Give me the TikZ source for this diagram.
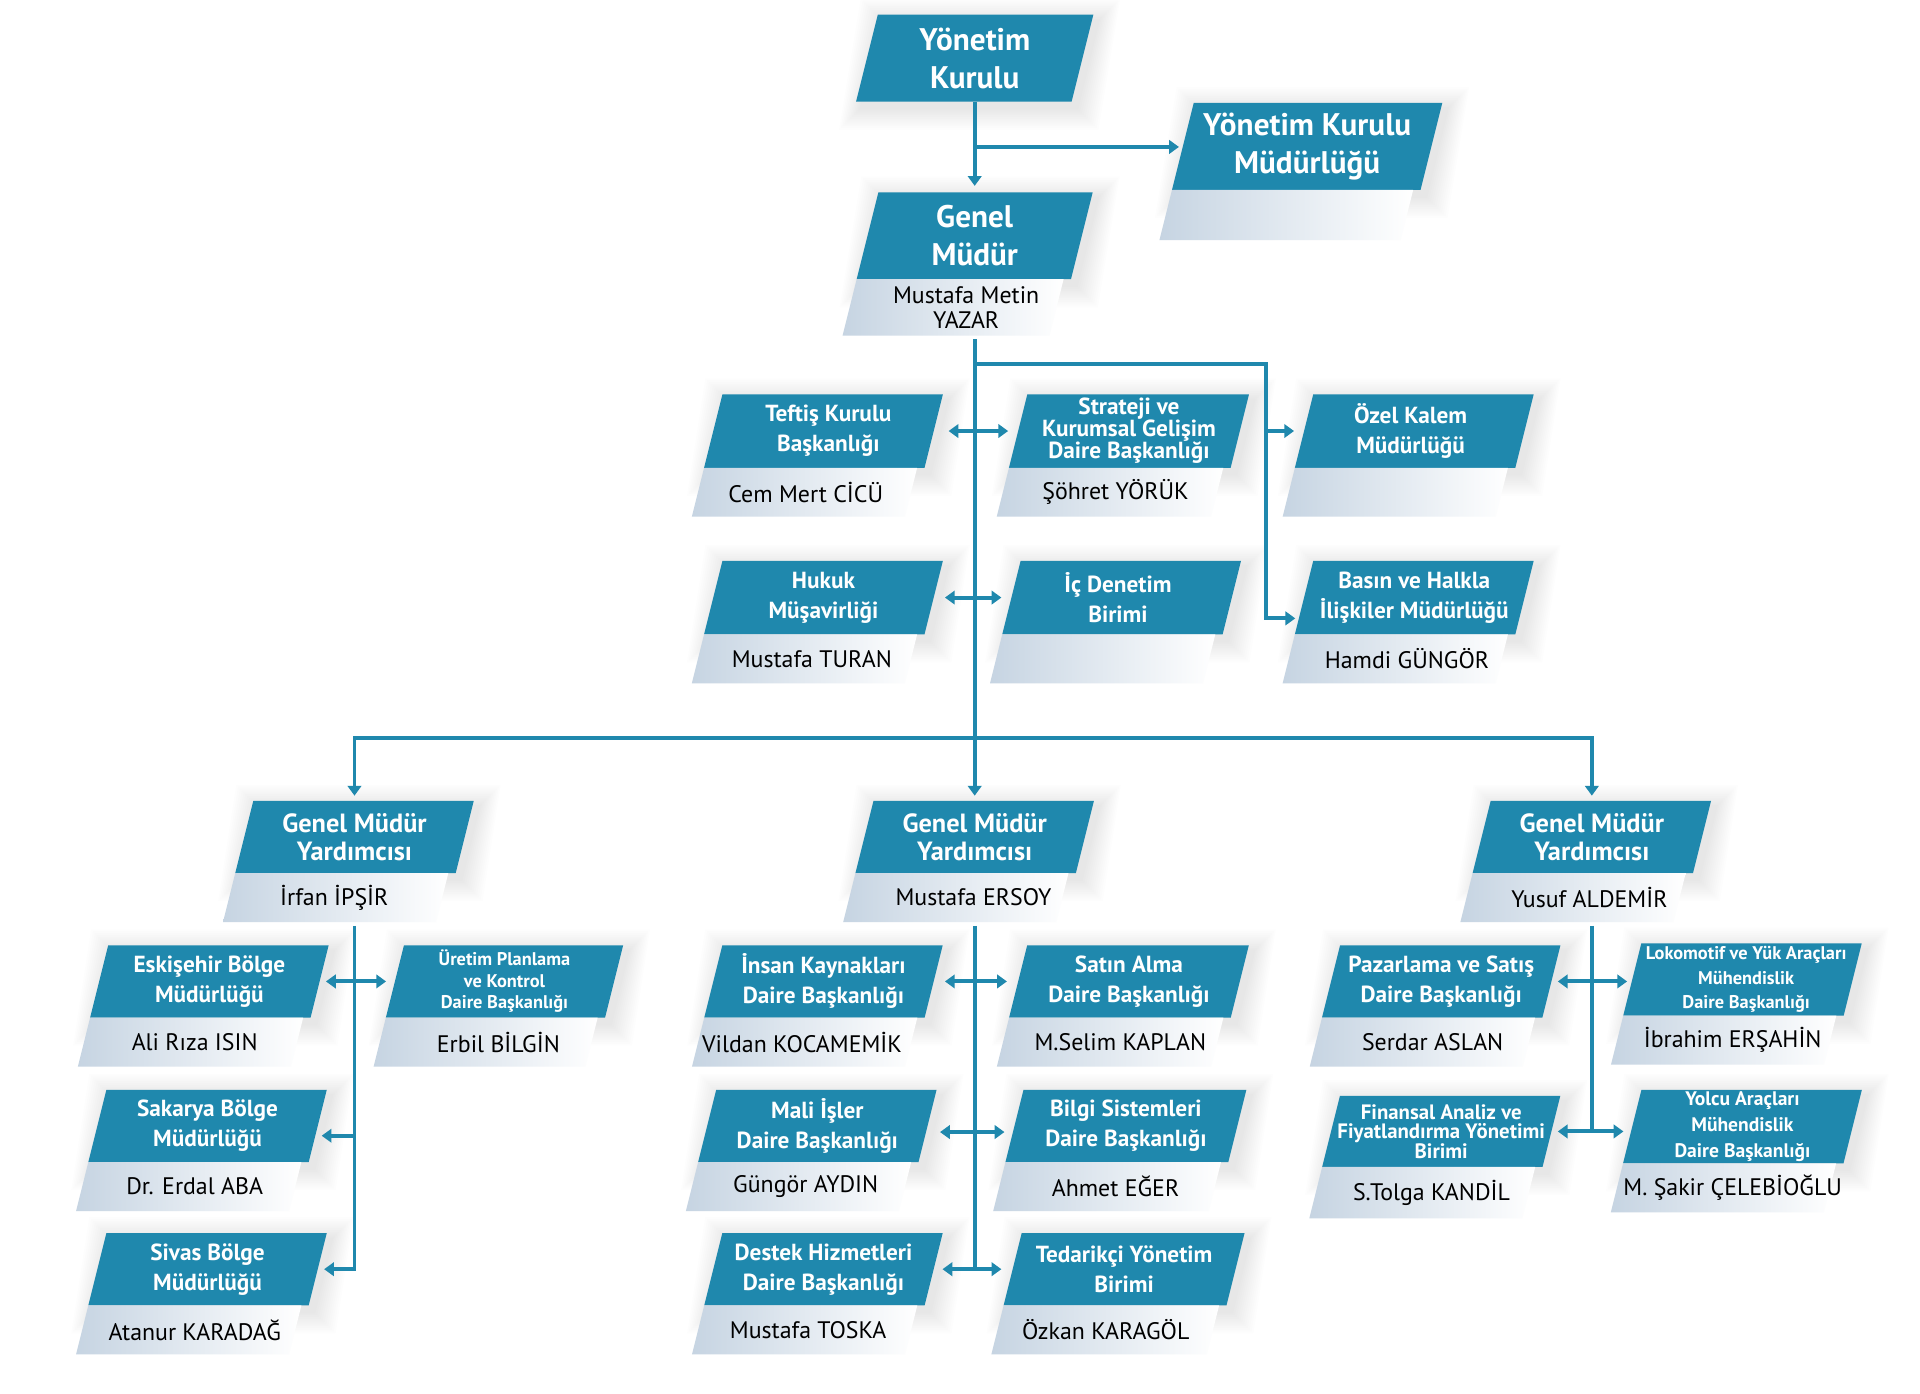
\documentclass[tikz,border=0pt]{standalone}
\usepackage{fontspec}
\setmainfont{PT Sans}
\usetikzlibrary{arrows.meta,calc}
\definecolor{boxc}{HTML}{1F88AD}
\definecolor{bandc}{HTML}{C6D4E2}
\tikzset{
 boxtxt/.style={text=white, font=\bfseries\fontsize{19}{24.5}\selectfont, align=center, inner sep=0pt},
 bigtxt/.style={font=\bfseries\fontsize{25.5}{31}\selectfont},
 gmytxt/.style={font=\bfseries\fontsize{21.5}{23}\selectfont},
 tritxt/.style={font=\bfseries\fontsize{19}{18}\selectfont},
 smalltxt/.style={font=\bfseries\fontsize{15}{17.5}\selectfont},
 lokotxt/.style={font=\bfseries\fontsize{15}{20}\selectfont},
 yoltxt/.style={font=\bfseries\fontsize{16}{21}\selectfont},
 fintxt/.style={font=\bfseries\fontsize{17}{16}\selectfont},
 nametxt/.style={text=black, font=\fontsize{19.5}{20}\selectfont, align=center, inner sep=0pt},
 conn/.style={draw=boxc, line width=3.2pt},
 arr/.style={conn, -{Triangle[length=8pt,width=11pt]}},
 dbl/.style={conn, {Triangle[length=8pt,width=11pt]}-{Triangle[length=8pt,width=11pt]}},
}
% box: #1 name, #2 cx, #3 cy, #4 w, #5 h, #6 opts, #7 text
\newcommand\ob[7]{%
 \foreach \k in {1,...,12}{%
  \fill[black,opacity=0.008] ({#2-#4/2+#5/8-1.5*\k+4},{#3-#5/2-1.5*\k+5}) -- ({#2+#4/2+#5/8+1.5*\k+4},{#3-#5/2-1.5*\k+5}) -- ({#2+#4/2-#5/8+1.5*\k+4},{#3+#5/2+1.5*\k+5}) -- ({#2-#4/2-#5/8-1.5*\k+4},{#3+#5/2+1.5*\k+5}) -- cycle;}
 \fill[boxc] ({#2-#4/2+#5/8},{#3-#5/2}) -- ({#2+#4/2+#5/8},{#3-#5/2}) -- ({#2+#4/2-#5/8},{#3+#5/2}) -- ({#2-#4/2-#5/8},{#3+#5/2}) -- cycle;
 \node[boxtxt,minimum width=#4pt,minimum height=#5pt,#6] (#1) at (#2,#3) {#7};}
% band: #1 name, #2 cx, #3 cy, #4 w, #5 h, #6 band h, #7 text x-shift from cx, #8 text
\newcommand\bd[8]{%
 \shade[left color=bandc,right color=white] ({#2-#4/2-#5/8},{#3+#5/2}) -- ({#2+#4/2-#5/8-6},{#3+#5/2}) -- ({#2+#4/2-#5/8-6-#6/4},{#3+#5/2+#6}) -- ({#2-#4/2-#5/8-#6/4},{#3+#5/2+#6}) -- cycle;
 \node[nametxt,minimum width=#4pt-6pt,minimum height=#6pt] (#1) at ({#2+#7},{#3+#5/2+#6/2}) {#8};}
\begin{document}
\begin{tikzpicture}[x=1pt,y=-1pt]
\fill[white] (0,0) rectangle (1568,1138);
\useasboundingbox (0,0) rectangle (1568,1138);

% top level
\ob{yk}{796}{47.5}{176}{71}{bigtxt}{Yönetim\\Kurulu}
\ob{ykm}{1067.5}{119.5}{203}{71}{bigtxt}{Yönetim Kurulu\\Müdürlüğü}
\bd{ykmn}{1067.5}{119.5}{203}{71}{41}{0}{}
\ob{gm}{796}{192.5}{175}{71}{bigtxt}{Genel\\Müdür}
\bd{gmn}{796}{192.5}{175}{71}{46}{-7}{Mustafa Metin\\YAZAR}

% staff row 1
\ob{tef}{672.5}{352}{180}{60}{xshift=4pt}{Teftiş Kurulu\\Başkanlığı}
\bd{tefn}{672.5}{352}{180}{60}{40}{-14.5}{Cem Mert CİCÜ}
\ob{str}{922}{352}{181}{60}{tritxt}{Strateji ve\\Kurumsal Gelişim\\Daire Başkanlığı}
\bd{strn}{922}{352}{181}{60}{40}{-11}{Şöhret YÖRÜK}
\ob{oz}{1155}{352}{180}{60}{xshift=-3pt}{Özel Kalem\\Müdürlüğü}
\bd{ozn}{1155}{352}{180}{60}{40}{0}{}
% staff row 2
\ob{huk}{672.5}{488}{180}{60}{}{Hukuk\\Müşavirliği}
\bd{hukn}{672.5}{488}{180}{60}{40}{-9.5}{Mustafa TURAN}
\ob{ic}{916}{488}{180}{60}{xshift=-3pt}{İç Denetim\\Birimi}
\bd{icn}{916}{488}{180}{60}{40}{0}{}
\ob{bas}{1155}{488}{180}{60}{}{Basın ve Halkla\\İlişkiler Müdürlüğü}
\bd{basn}{1155}{488}{180}{60}{40}{-6}{Hamdi GÜNGÖR}

% deputies
\ob{g1}{289.5}{683.5}{180}{59}{gmytxt}{Genel Müdür\\Yardımcısı}
\bd{g1n}{289.5}{683.5}{180}{59}{40}{-16.5}{İrfan İPŞİR}
\ob{g2}{796}{683.5}{180}{59}{gmytxt}{Genel Müdür\\Yardımcısı}
\bd{g2n}{796}{683.5}{180}{59}{40}{-1}{Mustafa ERSOY}
\ob{g3}{1300}{683.5}{180}{59}{gmytxt}{Genel Müdür\\Yardımcısı}
\bd{g3n}{1300}{683.5}{180}{59}{40}{-2}{Yusuf ALDEMİR}

% left column
\ob{esk}{171}{801.5}{180}{59}{}{Eskişehir Bölge\\Müdürlüğü}
\bd{eskn}{171}{801.5}{180}{59}{40}{-12}{Ali Rıza ISIN}
\ob{ure}{412}{801.5}{179}{59}{smalltxt}{Üretim Planlama\\ve Kontrol\\Daire Başkanlığı}
\bd{uren}{412}{801.5}{179}{59}{40}{-5}{Erbil BİLGİN}
\ob{sak}{169.5}{919.5}{180}{59}{}{Sakarya Bölge\\Müdürlüğü}
\bd{sakn}{169.5}{919.5}{180}{59}{40}{-10.5}{Dr. Erdal ABA}
\ob{siv}{169.5}{1036.5}{180}{59}{}{Sivas Bölge\\Müdürlüğü}
\bd{sivn}{169.5}{1036.5}{180}{59}{40}{-10.5}{Atanur KARADAĞ}

% middle column
\ob{ins}{672.5}{801.5}{180}{59}{}{İnsan Kaynakları\\Daire Başkanlığı}
\bd{insn}{672.5}{801.5}{180}{59}{40}{-17.5}{Vildan KOCAMEMİK}
\ob{sat}{922}{801.5}{181}{59}{}{Satın Alma\\Daire Başkanlığı}
\bd{satn}{922}{801.5}{181}{59}{40}{-7}{M.Selim KAPLAN}
\ob{mal}{667.5}{919.5}{180}{59}{}{Mali İşler\\Daire Başkanlığı}
\bd{maln}{667.5}{919.5}{180}{59}{40}{-9.5}{Güngör AYDIN}
\ob{bil}{919.5}{919.5}{182}{59}{}{Bilgi Sistemleri\\Daire Başkanlığı}
\bd{biln}{919.5}{919.5}{182}{59}{40}{-8.5}{Ahmet EĞER}
\ob{des}{672.5}{1036.5}{180}{59}{}{Destek Hizmetleri\\Daire Başkanlığı}
\bd{desn}{672.5}{1036.5}{180}{59}{40}{-12.5}{Mustafa TOSKA}
\ob{ted}{918}{1036.5}{182}{59}{}{Tedarikçi Yönetim\\Birimi}
\bd{tedn}{918}{1036.5}{182}{59}{40}{-15}{Özkan KARAGÖL}

% right column
\ob{paz}{1177}{801.5}{180}{59}{}{Pazarlama ve Satış\\Daire Başkanlığı}
\bd{pazn}{1177}{801.5}{180}{59}{40}{-7}{Serdar ASLAN}
\ob{lok}{1423}{800}{180}{59}{lokotxt,xshift=3pt}{Lokomotif ve Yük Araçları\\Mühendislik\\Daire Başkanlığı}
\bd{lokn}{1423}{800}{180}{59}{40}{-8}{İbrahim ERŞAHİN}
\ob{fin}{1177}{924}{180}{58}{fintxt}{Finansal Analiz ve\\Fiyatlandırma Yönetimi\\Birimi}
\bd{finn}{1177}{924}{180}{58}{42}{-8}{S.Tolga KANDİL}
\ob{yol}{1423}{920}{180}{60}{yoltxt}{Yolcu Araçları\\Mühendislik\\Daire Başkanlığı}
\bd{yoln}{1423}{920}{180}{60}{40}{-8}{M. Şakir ÇELEBİOĞLU}

% connectors: top
\coordinate (ykbr) at (796,120);
\draw[arr, shorten >=5pt] (yk.south) -- (yk.south |- gm.north);
\draw[arr, shorten >=3pt] (ykbr) -- (ykbr -| ykm.west);
% trunk and side branch
\coordinate (bus) at (796,603);
\coordinate (sb) at (1034,297);
\draw[conn] ([yshift=-3pt]gm |- gmn.south) -- (gm |- bus);
\draw[arr] (gm |- sb) -- (sb) -- (sb |- bas.west) -- ++(0,17) -- ([xshift=-7pt,yshift=-17pt]bas.west);
\draw[arr] (sb |- oz.west) -- ([xshift=-5pt]oz.west);
\draw[dbl, shorten <=8pt, shorten >=8pt] (tef.east) -- (str.west);
\draw[dbl, shorten <=9pt, shorten >=5pt] (huk.east) -- (ic.west);
% bus
\draw[arr, shorten >=4pt] (bus) -| (g1.north);
\draw[arr, shorten >=4pt] (bus) -| (g3.north);
\draw[arr, shorten >=4pt] (bus) -- (g2.north);
% left column
\draw[arr, shorten >=5pt] ([yshift=-3pt]g1 |- g1n.south) |- (siv.east);
\draw[arr, shorten >=5pt] (g1 |- sak.east) ++(0,8) -- ([xshift=-2pt,yshift=-8pt]sak.east);
\draw[dbl, shorten <=5pt, shorten >=7pt] (esk.east) -- (ure.west);
% middle column
\draw[conn] ([yshift=-3pt]g2 |- g2n.south) -- (g2 |- des.east);
\draw[dbl, shorten <=9pt, shorten >=9pt] (ins.east) -- (sat.west);
\draw[dbl, shorten <=10pt, shorten >=8pt] ([yshift=-5pt]mal.east) -- ([yshift=-5pt]bil.west);
\draw[dbl, shorten <=7pt, shorten >=9pt] (des.east) -- (ted.west);
% right column
\draw[conn] ([yshift=-3pt]g3 |- g3n.south) -- (g3 |- fin.east);
\draw[dbl, shorten <=5pt, shorten >=7pt] (paz.east) -- (paz.east -| lok.west);
\draw[dbl, shorten <=5pt, shorten >=7pt] (fin.east) -- (fin.east -| yol.west);
\end{tikzpicture}
\end{document}
